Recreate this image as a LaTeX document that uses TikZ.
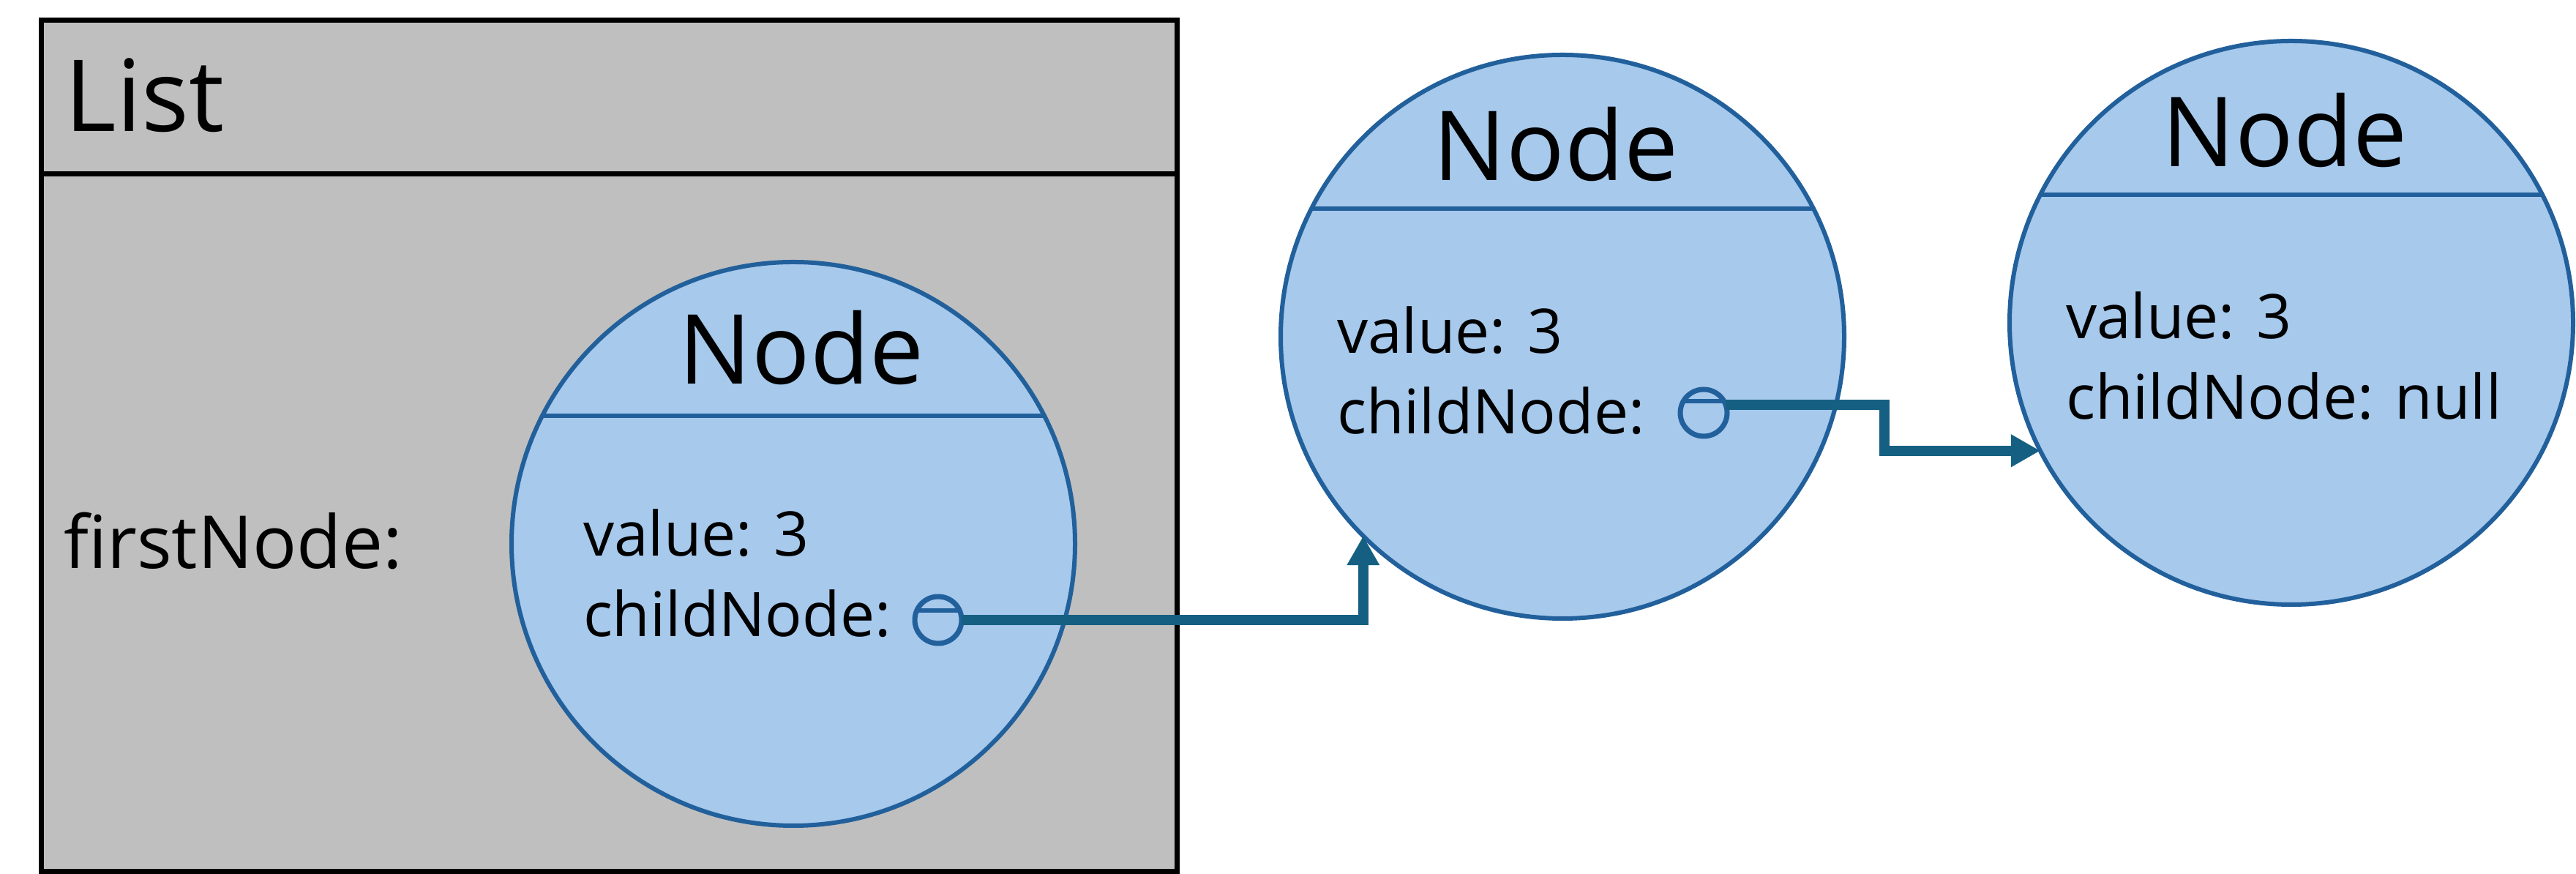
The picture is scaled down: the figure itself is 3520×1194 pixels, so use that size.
\documentclass[tikz,border=0pt]{standalone}
\usepackage{fontspec}
\setmainfont{Open Sans}
\usetikzlibrary{arrows.meta}
\definecolor{listgray}{HTML}{BFBFBF}
\definecolor{nodefill}{HTML}{A6C9EC}
\definecolor{nodeline}{HTML}{22609C}
\definecolor{arrowcol}{HTML}{156082}
\begin{document}
\begin{tikzpicture}[x=0.2pt,y=-0.2pt,
  listbox/.style={draw=black, fill=listgray, line width=1.4pt, rectangle, inner sep=0pt, outer sep=0pt,
    minimum width=310.2pt, minimum height=232.4pt},
  objcircle/.style={circle, draw=nodeline, fill=nodefill, line width=1.2pt, minimum size=154pt, inner sep=0pt, outer sep=0pt},
  sepline/.style={draw=nodeline, line width=1.3pt},
  ptrcircle/.style={circle, draw=nodeline, line width=1.4pt, minimum size=12.8pt, inner sep=0pt, outer sep=0pt},
  bigtext/.style={font=\fontsize{27.2pt}{32pt}\selectfont, anchor=base west, inner sep=0pt},
  title/.style={font=\fontsize{26.4pt}{32pt}\selectfont, anchor=base, inner sep=0pt},
  label/.style={font=\fontsize{20pt}{24pt}\selectfont, anchor=base west, inner sep=0pt},
  body/.style={font=\fontsize{16.8pt}{20pt}\selectfont, anchor=base west, inner sep=0pt},
  ptr/.style={draw=arrowcol, line width=2.8pt, -{Triangle[length=8pt,width=8.4pt]}},
]
\useasboundingbox (0,0) rectangle (3520,1194);

% List box
\node[listbox] (list) at (832.5,609) {};
\draw[line width=1.4pt] (list.north west |- 0,238) -- (list.north east |- 0,238);
\node[bigtext] (listtitle) at (88,180) {List};
\node[label] (first) at (86,777) {firstNode:};

% Node circles
\node[objcircle] (n1) at (1084,743) {};
\node[objcircle] (n2) at (2135,460) {};
\node[objcircle] (n3) at (3131,441) {};
\draw[sepline] (n1.153) -- (n1.27);
\draw[sepline] (n2.153) -- (n2.27);
\draw[sepline] (n3.153) -- (n3.27);

\node[title] (t1) at (1095,525) {Node};
\node[title] (t2) at (2126,247) {Node};
\node[title] (t3) at (3122,228) {Node};

\node[body] (v1) at (796,760) {value: 3};
\node[body] (c1) at (796,870) {childNode:};
\node[body] (v2) at (1826,483) {value: 3};
\node[body] (c2) at (1826,593) {childNode:};
\node[body] (v3) at (2822,463) {value: 3};
\node[body] (c3) at (2822,573) {childNode: null};

% pointer circles
\node[ptrcircle] (p1) at (1282,847) {};
\draw[draw=nodeline, line width=1.3pt] (p1.156) -- (p1.24);
\node[ptrcircle] (p2) at (2328,564) {};
\draw[draw=nodeline, line width=1.3pt] (p2.150) -- (p2.30);

% connectors
\draw[ptr] (p1.east) -| (n2.225);
\coordinate (bend2) at (2575,0);
\draw[ptr] (p2.20) -- (p2.20 -| bend2) |- (n3.207);
\end{tikzpicture}
\end{document}
